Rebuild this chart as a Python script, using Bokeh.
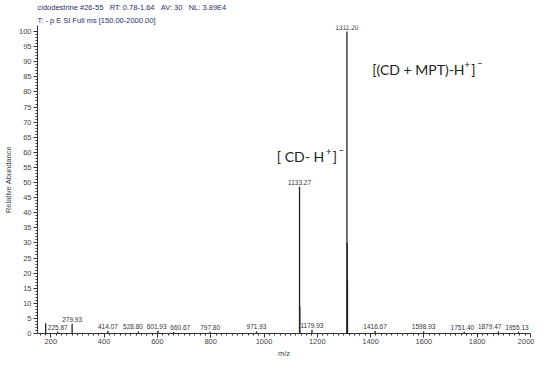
from bokeh.plotting import figure
from bokeh.models import Label, Title, ColumnDataSource, Range1d, FixedTicker, LabelSet
from bokeh.core.properties import value
from bokeh.embed import file_html
from bokeh.resources import INLINE

# ---- data ----
peak_mz = [180.6, 225.87, 279.93, 414.07, 528.80, 601.93, 660.67, 797.80, 971.93,
           1133.27, 1134.27, 1179.93, 1311.20, 1312.20, 1313.20,
           1416.67, 1598.93, 1751.40, 1879.47, 1955.13]
peak_int = [3.4, 0.6, 3.2, 0.8, 0.7, 0.9, 0.5, 0.6, 0.7,
            48.6, 9.0, 1.2, 100.0, 30.0, 17.5,
            0.8, 0.7, 0.6, 0.7, 0.6]

label_mz = [225.87, 279.93, 414.07, 528.80, 601.93, 660.67, 797.80, 971.93,
            1133.27, 1179.93, 1311.20, 1416.67, 1598.93, 1751.40, 1879.47, 1955.13]
label_int = [0.6, 3.2, 0.8, 0.7, 0.9, 0.5, 0.6, 0.7,
             48.6, 1.2, 100.0, 0.8, 0.7, 0.6, 0.7, 0.6]
label_txt = ["225.87", "279.93", "414.07", "528.80", "601.93", "660.67", "797.80", "971.93",
             "1133.27", "1179.93", "1311.20", "1416.67", "1598.93", "1751.40", "1879.47", "1955.13"]

x_ticks = [200, 400, 600, 800, 1000, 1200, 1400, 1600, 1800, 2000]
y_ticks = list(range(0, 101, 5))

S3 = "\u00a0\u00a0\u00a0"
header1 = "cidodestrine #26-55" + S3 + "RT: 0.78-1.64" + S3 + "AV: 30" + S3 + "NL: 3.89E4"
header2 = "T: - p E SI Full ms [150.00-2000.00]"

TICK_FONT = "Liberation Sans"
ANN_FONT = "Lato"
X0, X1 = 150, 2000
FRAME_W = 492  # approx frame width in px, used only to keep peak labels apart

p = figure(width=534, height=357, x_range=Range1d(X0, X1), y_range=Range1d(0, 102),
           output_backend="svg", toolbar_location=None,
           min_border_left=28, min_border_right=4, min_border_top=0, min_border_bottom=0)

p.add_layout(Title(text=header2, align="left", text_font_size="7.5px", text_font_style="normal",
                   text_color="#28306a", text_font=TICK_FONT, standoff=2), "above")
p.add_layout(Title(text=header1, align="left", text_font_size="7.5px", text_font_style="normal",
                   text_color="#28306a", text_font=TICK_FONT, standoff=1), "above")

p.grid.visible = False
p.outline_line_color = None

p.xaxis.ticker = FixedTicker(ticks=x_ticks, minor_ticks=list(range(160, 2001, 20)))
p.yaxis.ticker = FixedTicker(ticks=y_ticks, minor_ticks=list(range(0, 101, 1)))

for ax in (p.xaxis, p.yaxis):
    ax.axis_line_color = "#333333"
    ax.major_tick_line_color = "#333333"
    ax.minor_tick_line_color = "#333333"
    ax.major_tick_out = 4
    ax.major_tick_in = 0
    ax.minor_tick_out = 2
    ax.minor_tick_in = 0
    ax.major_label_text_font = TICK_FONT
    ax.major_label_text_font_size = "7.5px"
    ax.major_label_text_color = "#444444"
    ax.major_label_standoff = 2
    ax.axis_label_text_font = TICK_FONT
    ax.axis_label_text_font_size = "7.5px"
    ax.axis_label_text_font_style = "normal"
    ax.axis_label_text_color = "#444444"
    ax.axis_label_standoff = 3

p.xaxis.major_label_standoff = 1
p.yaxis.axis_label = "Relative Abundance"

# x-axis title as a small title panel below the axis
p.add_layout(Title(text="m/z", align="center", text_font_size="7.5px", text_font_style="normal",
                   text_color="#444444", text_font=TICK_FONT, standoff=0), "below")

src = ColumnDataSource(dict(mz=peak_mz, inten=peak_int, base=[0] * len(peak_mz)))
p.segment(x0="mz", y0="base", x1="mz", y1="inten", source=src, line_width=1.3, line_color="#222222")

# keep baseline-row peak labels from overlapping: pairwise repulsion in frame px
px_per_unit = FRAME_W / (X1 - X0)
char_w = 3.6
pos = [(m - X0) * px_per_unit for m in label_mz]
wid = [len(t) * char_w for t in label_txt]
low = sorted([i for i in range(len(label_mz)) if label_int[i] < 2], key=lambda i: pos[i])
for _ in range(80):
    for a, b in zip(low[:-1], low[1:]):
        need = (wid[a] + wid[b]) / 2 + 2
        gap = pos[b] - pos[a]
        if gap < need:
            d = (need - gap) / 2
            pos[a] -= d
            pos[b] += d
    for i in low:
        pos[i] = min(pos[i], FRAME_W - wid[i] / 2 - 1)
        pos[i] = max(pos[i], wid[i] / 2 + 1)
dx = [pos[i] - (label_mz[i] - X0) * px_per_unit for i in range(len(label_mz))]

lsrc = ColumnDataSource(dict(mz=label_mz, inten=label_int, txt=label_txt, dx=dx))
p.add_layout(LabelSet(x="mz", y="inten", text="txt", source=lsrc, text_align="center",
                      text_baseline="bottom", x_offset="dx", y_offset=2, text_font=value(TICK_FONT),
                      text_font_size=value("6.5px"), text_color=value("#333333")))


def ion_label(x, y, body, w_body):
    common = dict(x=x, y=y, text_font=ANN_FONT, text_baseline="middle", text_align="left",
                  text_color="#222222")
    p.add_layout(Label(text=body, text_font_size="14px", **common))
    p.add_layout(Label(text="+", text_font_size="10px", x_offset=w_body + 1, y_offset=5, **common))
    p.add_layout(Label(text="]", text_font_size="14px", x_offset=w_body + 8, **common))
    p.add_layout(Label(text="\u2212", text_font_size="9px", x_offset=w_body + 14,
                       y_offset=6, **common))


ion_label(1048, 58.5, "[ CD- H", 48)
ion_label(1406, 87.5, "[(CD + MPT)-H", 91)

open("out.html", "w").write(file_html(p, INLINE))
